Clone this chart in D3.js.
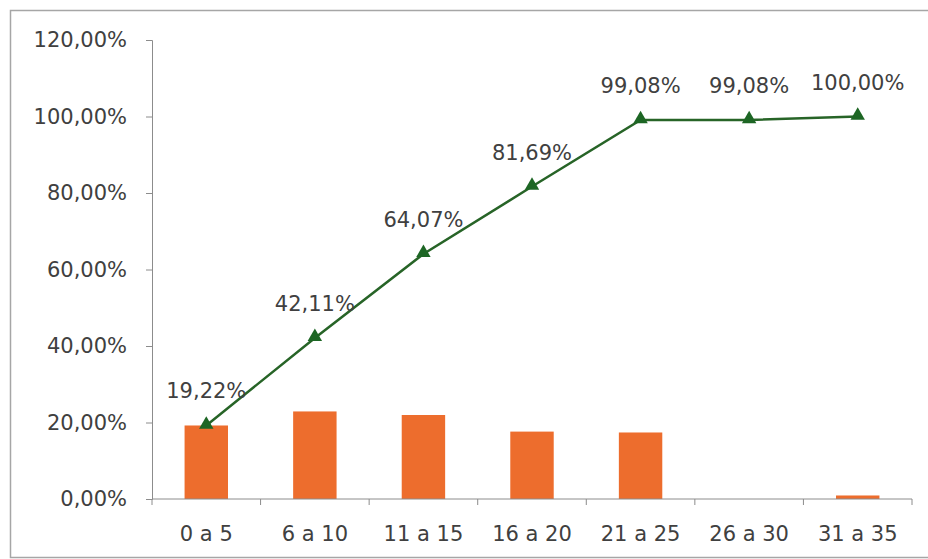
<!DOCTYPE html>
<html>
<head>
<meta charset="utf-8">
<script src="https://cdn.jsdelivr.net/npm/d3@7"></script>
<style>
  body { margin: 0; background: #fff; }
  svg { display: block; font-family: "DejaVu Sans", sans-serif; }
</style>
</head>
<body>
<div id="chart"></div>
<script>
const width = 928;
const height = 559;

const categories = ["0 a 5", "6 a 10", "11 a 15", "16 a 20", "21 a 25", "26 a 30", "31 a 35"];
const shares = [19.22, 22.89, 21.96, 17.62, 17.39, 0, 0.92];
const cumulative = [19.22, 42.11, 64.07, 81.69, 99.08, 99.08, 100.00];
const yTicks = [0, 20, 40, 60, 80, 100, 120];

const margin = {top: 40, right: 16, bottom: 60, left: 152};

const fmt = v => v.toFixed(2).replace(".", ",") + "%";

const svg = d3.select("#chart")
  .append("svg")
  .attr("width", width)
  .attr("height", height);

// outer frame (right side runs off the picture)
svg.append("rect")
  .attr("x", 10.5)
  .attr("y", 10.5)
  .attr("width", width + 10)
  .attr("height", 547)
  .attr("fill", "none")
  .attr("stroke", "#a6a6a6")
  .attr("stroke-width", 1.5);

const x = d3.scaleBand()
  .domain(categories)
  .range([margin.left, 912])
  .paddingInner(0.6)
  .paddingOuter(0.3);

const xBoundary = d3.scaleLinear()
  .domain([0, categories.length])
  .range([margin.left, 912]);

const y = d3.scaleLinear()
  .domain([0, 120])
  .range([499, 40]);

// y axis
const yAxis = svg.append("g")
  .attr("transform", `translate(${margin.left},0)`)
  .call(d3.axisLeft(y).tickValues(yTicks).tickSize(6).tickPadding(19).tickFormat(fmt));
yAxis.select(".domain").attr("stroke", "#8c8c8c");
yAxis.selectAll(".tick line").attr("stroke", "#8c8c8c");
yAxis.selectAll(".tick text")
  .attr("font-family", "DejaVu Sans")
  .attr("font-size", "21px")
  .attr("fill", "#404040");

// bars
svg.selectAll("rect.bar")
  .data(shares)
  .enter()
  .append("rect")
  .attr("class", "bar")
  .attr("x", (d, i) => x(categories[i]))
  .attr("y", d => y(d))
  .attr("width", x.bandwidth())
  .attr("height", d => y(0) - y(d))
  .attr("fill", "#ed6d2d");

// x axis
const xg = svg.append("g");
xg.append("line")
  .attr("x1", margin.left)
  .attr("x2", 912)
  .attr("y1", y(0))
  .attr("y2", y(0))
  .attr("stroke", "#8c8c8c");
xg.selectAll("line.tick")
  .data(d3.range(categories.length + 1))
  .enter()
  .append("line")
  .attr("class", "tick")
  .attr("x1", d => xBoundary(d))
  .attr("x2", d => xBoundary(d))
  .attr("y1", y(0))
  .attr("y2", y(0) + 6)
  .attr("stroke", "#8c8c8c");
xg.selectAll("text")
  .data(categories)
  .enter()
  .append("text")
  .attr("x", d => x(d) + x.bandwidth() / 2)
  .attr("y", y(0) + 42)
  .attr("text-anchor", "middle")
  .attr("font-size", "21px")
  .attr("fill", "#404040")
  .text(d => d);

// cumulative line
const cx = (d, i) => x(categories[i]) + x.bandwidth() / 2;
const line = d3.line()
  .x(cx)
  .y(d => y(d));

svg.append("path")
  .datum(cumulative)
  .attr("d", line)
  .attr("fill", "none")
  .attr("stroke", "#276427")
  .attr("stroke-width", 2.5);

svg.selectAll("path.marker")
  .data(cumulative)
  .enter()
  .append("path")
  .attr("class", "marker")
  .attr("d", d3.symbol().type(d3.symbolTriangle).size(90))
  .attr("transform", (d, i) => `translate(${cx(d, i)},${y(d) - 1})`)
  .attr("fill", "#1d6624");

svg.selectAll("text.label")
  .data(cumulative)
  .enter()
  .append("text")
  .attr("class", "label")
  .attr("x", (d, i) => cx(d, i))
  .attr("y", d => y(d) - 27)
  .attr("text-anchor", "middle")
  .attr("font-size", "21px")
  .attr("fill", "#404040")
  .text(d => fmt(d));
</script>
</body>
</html>
